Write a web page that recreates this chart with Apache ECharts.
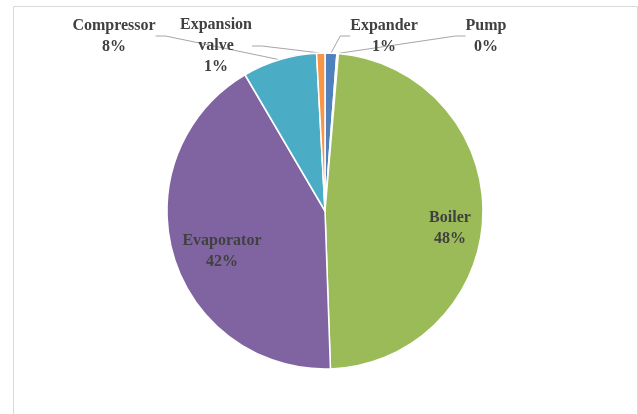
<!DOCTYPE html>
<html>
<head>
<meta charset="utf-8">
<script src="https://cdn.jsdelivr.net/npm/echarts@6/dist/echarts.min.js"></script>
<style>
  html, body { margin: 0; padding: 0; background: #fff; }
  #chart { width: 638px; height: 414px; }
</style>
</head>
<body>
<div id="chart"></div>
<script>
// data (Excel pie, clockwise from 12 o'clock)
var names = ['Expander', 'Pump', 'Boiler', 'Evaporator', 'Compressor', 'Expansion\nvalve']
var values = [1.2, 0.15, 48.1, 42.1, 7.6, 0.85]
var colors = ['#4F81BD', '#C0504D', '#9BBB59', '#8064A2', '#4BACC6', '#F79646']

// label centres, by slice
var labelPos = [
  [384, 36], // Expander
  [486, 36], // Pump
  [450, 228], // Boiler
  [222, 251], // Evaporator
  [114, 36], // Compressor
  [216, 46] // Expansion valve
]
var insideSlices = [2, 3]

var chart = echarts.init(document.getElementById('chart'), null, { renderer: 'canvas' })

var pieData = names.map(function (n, i) {
  var item = { name: n, value: values[i], itemStyle: { color: colors[i] } }
  if (insideSlices.indexOf(i) >= 0) {
    item.label = { position: 'inside' }
    item.labelLine = { show: false }
  }
  return item
})

chart.setOption({
  animation: false,
  backgroundColor: '#fff',
  graphic: [
    { // chart area frame
      type: 'rect',
      shape: { x: 13.5, y: 6.5, width: 624, height: 420 },
      style: { fill: 'none', stroke: '#d9d9d9', lineWidth: 1 },
      silent: true
    }
  ],
  series: [
    {
      type: 'pie',
      center: [325, 211],
      radius: 158,
      startAngle: 90,
      clockwise: true,
      percentPrecision: 0,
      data: pieData,
      itemStyle: { borderColor: '#fff', borderWidth: 1.5 },
      label: {
        show: true,
        position: 'outside',
        formatter: '{b}\n{d}%',
        fontFamily: 'Liberation Serif',
        fontWeight: 'bold',
        fontSize: 16,
        lineHeight: 21,
        color: '#404040',
        align: 'center'
      },
      labelLine: {
        show: true,
        length: 10,
        length2: 10,
        lineStyle: { color: '#a6a6a6', width: 1 }
      },
      labelLayout: function (params) {
        var p = labelPos[params.dataIndex]
        return { x: p[0], y: p[1], align: 'center', verticalAlign: 'middle' }
      }
    }
  ]
})
</script>
</body>
</html>
